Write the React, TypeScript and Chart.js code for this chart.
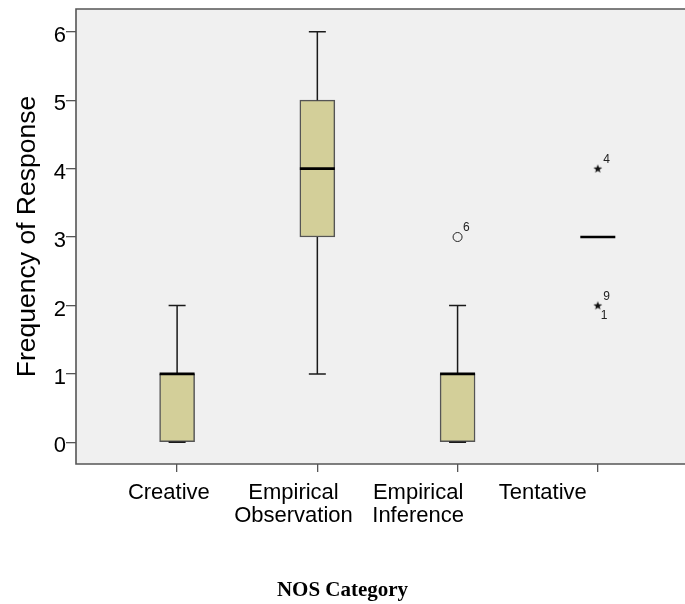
import React, { useEffect, useRef } from "react";
import { Chart, registerables } from "chart.js";

Chart.register(...registerables);

// ---- data ----
const categories = ["Creative", "Empirical Observation", "Empirical Inference", "Tentative"];
const tickLabels = [["Creative"], ["Empirical", "Observation"], ["Empirical", "Inference"], ["Tentative"]];
const whiskerLow = [0, 1, 0, 3];
const quartile1 = [0, 3, 0, 3];
const medians = [1, 4, 1, 3];
const quartile3 = [1, 5, 1, 3];
const whiskerHigh = [2, 6, 2, 3];
// outliers (circles): category number (1-based), value, case labels
const outlierCategory = [3];
const outlierValue = [3];
const outlierCase = [["6"]];
// extremes (stars)
const extremeCategory = [4, 4];
const extremeValue = [4, 2];
const extremeCase = [["4"], ["9", "1"]];
const yTicks = [0, 1, 2, 3, 4, 5, 6];

const SANS = "'Liberation Sans', Arial, sans-serif";

function makeStar(): HTMLCanvasElement {
  const c = document.createElement("canvas");
  c.width = 10;
  c.height = 10;
  const g = c.getContext("2d")!;
  g.fillStyle = "#111";
  g.beginPath();
  for (let k = 0; k < 10; k++) {
    const r = k % 2 === 0 ? 4.6 : 1.9;
    const ang = -Math.PI / 2 + (k * Math.PI) / 5;
    const px = 5 + r * Math.cos(ang);
    const py = 5.4 + r * Math.sin(ang);
    if (k === 0) g.moveTo(px, py);
    else g.lineTo(px, py);
  }
  g.closePath();
  g.fill();
  return c;
}

const boxPlugin = {
  id: "boxWhisker",
  beforeDraw(chart: any) {
    const { ctx, chartArea: a } = chart;
    const w = chart.width;
    ctx.save();
    ctx.fillStyle = "#F0F0F0";
    ctx.fillRect(a.left, a.top, w - a.left, a.bottom - a.top);
    ctx.strokeStyle = "#555";
    ctx.lineWidth = 1.6;
    ctx.beginPath();
    ctx.moveTo(w + 2, a.top);
    ctx.lineTo(a.left, a.top);
    ctx.lineTo(a.left, a.bottom);
    ctx.lineTo(w + 2, a.bottom);
    ctx.stroke();
    ctx.restore();
  },
  afterDatasetsDraw(chart: any) {
    const { ctx } = chart;
    const xs = chart.scales.x;
    const ys = chart.scales.y;
    const boxW = 35;
    const capW = 17;
    ctx.save();
    ctx.strokeStyle = "#1a1a1a";
    categories.forEach((_, i) => {
      const px = xs.getPixelForValue(i + 1);
      const hasBox = quartile3[i] > quartile1[i];
      ctx.lineWidth = 1.5;
      if (hasBox) {
        const yq3 = ys.getPixelForValue(quartile3[i]);
        const yhi = ys.getPixelForValue(whiskerHigh[i]);
        const yq1 = ys.getPixelForValue(quartile1[i]);
        const ylo = ys.getPixelForValue(whiskerLow[i]);
        ctx.beginPath();
        ctx.moveTo(px, yq3);
        ctx.lineTo(px, yhi);
        ctx.moveTo(px - capW / 2, yhi);
        ctx.lineTo(px + capW / 2, yhi);
        ctx.moveTo(px, yq1);
        ctx.lineTo(px, ylo);
        ctx.moveTo(px - capW / 2, ylo);
        ctx.lineTo(px + capW / 2, ylo);
        ctx.stroke();
      }
      const ym = ys.getPixelForValue(medians[i]);
      ctx.lineWidth = 2.6;
      ctx.strokeStyle = "#000";
      ctx.beginPath();
      ctx.moveTo(px - boxW / 2, ym);
      ctx.lineTo(px + boxW / 2, ym);
      ctx.stroke();
      ctx.strokeStyle = "#1a1a1a";
    });
    // case labels
    ctx.fillStyle = "#222";
    ctx.font = `12px ${SANS}`;
    ctx.textAlign = "left";
    ctx.textBaseline = "middle";
    const drawLabels = (cat: number, val: number, labs: string[]) => {
      const px = xs.getPixelForValue(cat);
      const py = ys.getPixelForValue(val);
      if (labs[0]) ctx.fillText(labs[0], px + 5.5, py - 9);
      if (labs[1]) ctx.fillText(labs[1], px + 3, py + 10.5);
    };
    outlierCategory.forEach((c, k) => drawLabels(c, outlierValue[k], outlierCase[k]));
    extremeCategory.forEach((c, k) => drawLabels(c, extremeValue[k], extremeCase[k]));
    ctx.restore();
  },
};

export default function App() {
  const ref = useRef<HTMLCanvasElement | null>(null);
  useEffect(() => {
    if (!ref.current) return;
    const star = makeStar();
    const chart = new Chart(ref.current, {
      type: "bar",
      data: {
        datasets: [
          {
            type: "bar",
            data: categories.map((_, i) => ({ x: i + 1, y: [quartile1[i], quartile3[i]] })) as any,
            backgroundColor: "#D3CF99",
            borderColor: "#555",
            borderWidth: 1.5,
            borderSkipped: false,
            barThickness: 35,
            xAxisID: "x",
            yAxisID: "y",
          } as any,
          {
            type: "scatter",
            data: outlierCategory.map((c, k) => ({ x: c, y: outlierValue[k] })),
            pointStyle: "circle",
            pointRadius: 4.5,
            backgroundColor: "rgba(0,0,0,0)",
            borderColor: "#222",
            borderWidth: 1,
            xAxisID: "x",
            yAxisID: "y",
          } as any,
          {
            type: "scatter",
            data: extremeCategory.map((c, k) => ({ x: c, y: extremeValue[k] })),
            pointStyle: star,
            pointRadius: 5,
            xAxisID: "x",
            yAxisID: "y",
          } as any,
        ],
      },
      options: {
        responsive: false,
        animation: false,
        devicePixelRatio: 1,
        layout: { padding: { top: 9, left: 0, right: 0, bottom: 0 } },
        plugins: {
          legend: { display: false },
          tooltip: { enabled: false },
          title: {
            display: true,
            position: "bottom",
            text: "NOS Category",
            color: "#000",
            font: { family: "'Liberation Serif', 'Times New Roman', serif", size: 21, weight: "bold", lineHeight: 1.2 },
            padding: { top: 0, bottom: 1 },
          },
        },
        scales: {
          x: {
            type: "linear",
            position: "bottom",
            min: 0.279,
            max: 4.579,
            offset: false,
            weight: 0,
            afterBuildTicks: (s: any) => {
              s.ticks = categories.map((_, i) => ({ value: i + 1 }));
            },
            afterFit: (s: any) => {
              s.height = 8;
            },
            ticks: { display: false },
            grid: { offset: false, drawOnChartArea: false, drawTicks: true, tickLength: 8, color: "#555", lineWidth: 1.3 },
            border: { display: false },
          },
          xLabels: {
            type: "linear",
            position: "bottom",
            min: 0.255,
            max: 5.093,
            offset: false,
            weight: 1,
            afterBuildTicks: (s: any) => {
              s.ticks = categories.map((_, i) => ({ value: i + 1 }));
            },
            afterFit: (s: any) => {
              s.height = 105.8;
            },
            ticks: {
              callback: (v: any) => tickLabels[Math.round(v) - 1] ?? "",
              font: { family: SANS, size: 22, lineHeight: "23.5px" },
              color: "#000",
              padding: 1,
              maxRotation: 0,
              minRotation: 0,
              autoSkip: false,
            },
            grid: { display: false, offset: false },
            border: { display: false },
          },
          y: {
            type: "linear",
            min: -0.317,
            max: 6.332,
            afterBuildTicks: (s: any) => {
              s.ticks = yTicks.map((v) => ({ value: v }));
            },
            afterFit: (s: any) => {
              s.width = 76;
            },
            ticks: { font: { family: SANS, size: 22, lineHeight: 0.8 }, color: "#000", padding: 0, labelOffset: 4 },
            grid: { drawOnChartArea: false, drawTicks: true, tickLength: 10, color: "#555", lineWidth: 1.3 },
            border: { display: false },
            title: {
              display: true,
              text: "Frequency of Response",
              color: "#000",
              font: { family: SANS, size: 26.5 },
              padding: { top: 12, bottom: 0 },
            },
          },
        },
      } as any,
      plugins: [boxPlugin],
    });
    return () => chart.destroy();
  }, []);
  return (
    <div style={{ position: "absolute", left: 0, top: 0, width: 685, height: 604, background: "#fff" }}>
      <canvas ref={ref} width={685} height={604} style={{ display: "block" }} />
    </div>
  );
}
